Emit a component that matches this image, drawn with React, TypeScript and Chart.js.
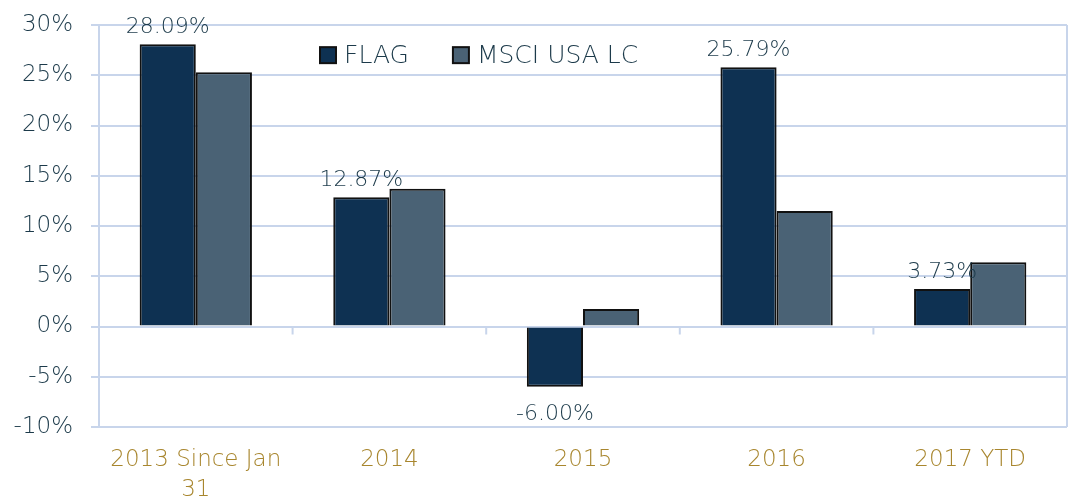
import React, { useEffect, useRef } from "react";
import { Chart, registerables } from "chart.js";

Chart.register(...registerables);

const categories: (string | string[])[] = [["2013 Since Jan", "31"], "2014", "2015", "2016", "2017 YTD"];
const flagValues = [28.09, 12.87, -6.0, 25.79, 3.73];
const msciValues = [25.3, 13.7, 1.75, 11.5, 6.4];
const seriesNames = ["FLAG", "MSCI USA LC"];
const yTicks = { min: -10, max: 30, step: 5 };

const FONT = "'DejaVu Sans', sans-serif";
const TEXT = "#1c3a4a";
const GOLD = "#a8862e";
const GRID = "#c8d5eb";
const FLAG_C = "#0e3152";
const MSCI_C = "#4a6275";

const framePlugin = {
  id: "frame",
  afterDraw(chart: any) {
    const { ctx, chartArea, scales } = chart;
    const x = scales.x;
    const y = scales.y;
    ctx.save();
    ctx.strokeStyle = GRID;
    ctx.lineWidth = 2;
    ctx.beginPath();
    ctx.moveTo(chartArea.right, chartArea.top);
    ctx.lineTo(chartArea.right, chartArea.bottom);
    ctx.stroke();
    const y0 = y.getPixelForValue(0);
    const n = chart.data.labels.length;
    for (let i = 1; i < n; i++) {
      const xp = (x.getPixelForValue(i - 1) + x.getPixelForValue(i)) / 2;
      ctx.beginPath();
      ctx.moveTo(xp, y0);
      ctx.lineTo(xp, y0 + 8);
      ctx.stroke();
    }
    const meta = chart.getDatasetMeta(0);
    ctx.fillStyle = TEXT;
    ctx.font = `200 22px ${FONT}`;
    ctx.textAlign = "center";
    meta.data.forEach((bar: any, i: number) => {
      const v = chart.data.datasets[0].data[i];
      const label = v.toFixed(2) + "%";
      if (v >= 0) {
        ctx.textBaseline = "alphabetic";
        ctx.fillText(label, bar.x, bar.y - 11);
      } else {
        ctx.textBaseline = "top";
        ctx.fillText(label, bar.x, bar.y + 16);
      }
    });
    let lx = 320;
    const ly = y.getPixelForValue(27);
    ctx.font = `200 25px ${FONT}`;
    ctx.textAlign = "left";
    ctx.textBaseline = "middle";
    chart.data.datasets.forEach((ds: any) => {
      ctx.fillStyle = ds.backgroundColor;
      ctx.strokeStyle = "#111";
      ctx.lineWidth = 2;
      ctx.fillRect(lx, ly - 8, 16, 16);
      ctx.strokeRect(lx, ly - 8, 16, 16);
      ctx.fillStyle = TEXT;
      ctx.fillText(ds.label, lx + 24, ly + 1);
      lx += 24 + ctx.measureText(ds.label).width + 44;
    });
    ctx.restore();
  },
};

export default function App() {
  const ref = useRef<HTMLCanvasElement>(null);
  useEffect(() => {
    document.body.style.margin = "0";
    const chart = new Chart(ref.current!, {
      type: "bar",
      data: {
        labels: categories,
        datasets: [
          {
            label: seriesNames[0],
            data: flagValues,
            backgroundColor: FLAG_C,
            borderColor: "#111",
            borderWidth: 2,
            categoryPercentage: 0.58,
            barPercentage: 1,
          },
          {
            label: seriesNames[1],
            data: msciValues,
            backgroundColor: MSCI_C,
            borderColor: "#111",
            borderWidth: 2,
            categoryPercentage: 0.58,
            barPercentage: 1,
          },
        ],
      },
      options: {
        animation: false,
        responsive: false,
        layout: { padding: { top: 25, right: 2, left: 0, bottom: 0 } },
        plugins: { legend: { display: false }, tooltip: { enabled: false } },
        scales: {
          x: {
            grid: { display: false, drawTicks: false },
            border: { display: false },
            ticks: {
              color: GOLD,
              font: { family: FONT, size: 23, weight: "200" as any, lineHeight: 1.3 },
              padding: 18,
              maxRotation: 0,
            },
            afterFit: (s: any) => {
              s.height = 73;
              s.paddingLeft = 0;
              s.paddingRight = 0;
            },
          },
          y: {
            min: yTicks.min,
            max: yTicks.max,
            ticks: {
              stepSize: yTicks.step,
              color: TEXT,
              font: { family: FONT, size: 23, weight: "200" as any },
              padding: 18,
              callback: (v: any) => v + "%",
            },
            grid: { color: GRID, lineWidth: 2, tickLength: 8 },
            border: { color: GRID, width: 2 },
            afterFit: (s: any) => {
              s.width = 99;
              s.paddingTop = 0;
              s.paddingBottom = 0;
            },
          },
        },
      },
      plugins: [framePlugin],
    });
    return () => chart.destroy();
  }, []);
  return (
    <div style={{ width: 1069, height: 500 }}>
      <canvas ref={ref} width={1069} height={500} />
    </div>
  );
}
